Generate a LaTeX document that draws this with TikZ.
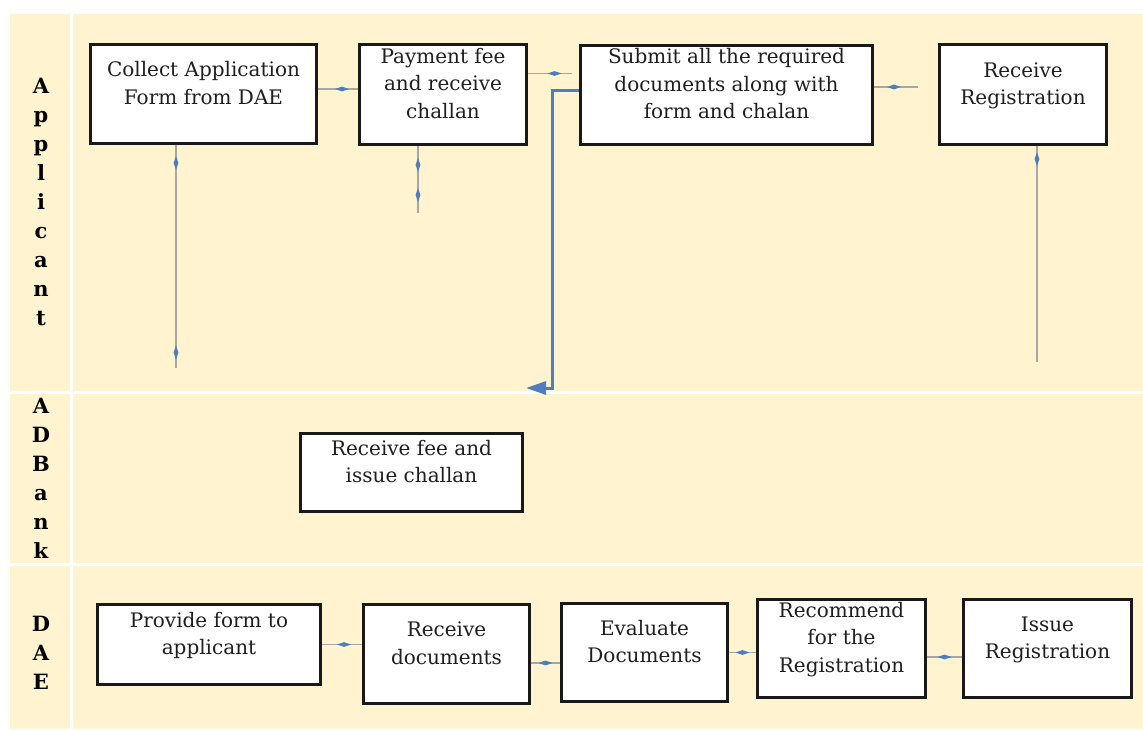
\documentclass[tikz,border=0pt]{standalone}
\usepackage{fontspec}
\setmainfont{DejaVu Serif}
\usetikzlibrary{arrows.meta,decorations.markings}
\definecolor{lanefill}{RGB}{255,244,207}
\definecolor{flowblue}{RGB}{79,126,192}
\newcommand{\boxlines}[1]{\raisebox{4pt}[0pt][0pt]{\begin{tabular}{@{}c@{}}#1\end{tabular}}}
\newcommand{\lanename}[1]{\begin{tabular}{@{}c@{}}#1\end{tabular}}
\begin{document}
\begin{tikzpicture}[x=1pt, y=-1pt,
	proc/.style={shape=rectangle, draw=black!90, line width=3.2pt, fill=white, inner sep=0pt, text=black!88, font=\fontsize{20}{27.5}\selectfont},
	lane/.style={font=\fontsize{21}{29}\selectfont\bfseries},
	link/.style={draw=black!35, line width=1.6pt, postaction={decorate}, decoration={markings}},
	tick/.style={decoration={mark=at position #1 with {\fill[flowblue] (-7,0) -- (0,2.4) -- (7,0) -- (0,-2.4) -- cycle;}}},
	handoff/.style={draw=flowblue, line width=3pt, -{Triangle[length=20pt,width=13pt]}}]
		\useasboundingbox (0,0) rectangle (1143,729);
		% lanes
		\fill[lanefill] (10,14) rectangle (1143,729);
		\draw[white, line width=3pt] (71,14) -- (71,729);
		\draw[white, line width=3pt] (10,392) -- (1143,392);
		\draw[white, line width=3pt] (10,564) -- (1143,564);
		\node[lane] (applicant) at (41,204) {\lanename{A\\p\\p\\l\\i\\c\\a\\n\\t}};
		\node[lane] (adbank) at (41,480) {\lanename{A\\D\\B\\a\\n\\k}};
		\node[lane] (dae) at (41,655) {\lanename{D\\A\\E}};
		% Applicant
		\node[proc, minimum width=226, minimum height=99] (collect) at (203.5,94) {\boxlines{Collect Application\\Form from DAE}};
		\node[proc, minimum width=167, minimum height=100] (payment) at (443,94.5) {\boxlines{Payment fee\\and receive\\challan}};
		\node[proc, minimum width=292, minimum height=99] (submit) at (726.5,95) {\boxlines{Submit all the required\\documents along with\\form and chalan}};
		\node[proc, minimum width=167, minimum height=100] (getreg) at (1023,94.5) {\boxlines{Receive\\Registration}};
		% ADBank
		\node[proc, minimum width=222, minimum height=78] (fee) at (411.5,472.5) {\boxlines{Receive fee and\\issue challan}};
		% DAE
		\node[proc, minimum width=223, minimum height=80] (provide) at (209,644.5) {\boxlines{Provide form to\\applicant}};
		\node[proc, minimum width=166, minimum height=99] (recdocs) at (446.5,654) {\boxlines{Receive\\documents}};
		\node[proc, minimum width=166, minimum height=98] (evaluate) at (644.5,652.5) {\boxlines{Evaluate\\Documents}};
		\node[proc, minimum width=168, minimum height=98] (recommend) at (841.5,648.5) {\boxlines{Recommend\\for the\\Registration}};
		\node[proc, minimum width=168, minimum height=98] (issue) at (1047.5,648.5) {\boxlines{Issue\\Registration}};
		\coordinate (drop) at (526,388);
		% connectors
		\draw[link, tick=0.6] ([yshift=5pt]collect.east) -- ([yshift=5pt]collect.east -| payment.west);
		\draw[link, tick=0.6] ([yshift=21pt]payment.east) -- ++(44,0);
		\draw[link, tick=0.45] ([yshift=8pt]submit.east) -- ++(44,0);
		\draw[link, tick=0.08, tick=0.93] ([xshift=-27.5pt]collect.south) -- ++(0,223);
		\draw[link, tick=0.28, tick=0.73] ([xshift=-25pt]payment.south) -- ++(0,67);
		\draw[link, tick=0.06] ([xshift=14pt]getreg.south) -- ++(0,216);
		\draw[handoff] ([yshift=5pt]submit.west) -- ++(-26,0) |- (drop);
		\draw[link, tick=0.55] (provide.east) -- (provide.east -| recdocs.west);
		\draw[link, tick=0.5] ([yshift=-9pt]recdocs.east) -- ([yshift=-9pt]recdocs.east -| evaluate.west);
		\draw[link, tick=0.5] (evaluate.east) -- (evaluate.east -| recommend.west);
		\draw[link, tick=0.5] ([yshift=-8.5pt]recommend.east) -- ([yshift=-8.5pt]recommend.east -| issue.west);
\end{tikzpicture}
\end{document}
